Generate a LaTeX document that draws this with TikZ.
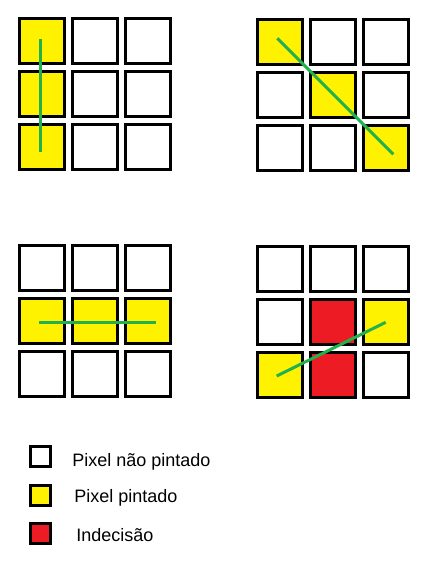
\documentclass[tikz,border=0pt]{standalone}
\usepackage{fontspec}
\setmainfont{Liberation Sans}
\definecolor{pyellow}{HTML}{FFF200}
\definecolor{pred}{HTML}{ED1C24}
\definecolor{pgreen}{HTML}{22B14C}
\tikzset{
  cellbox/.style={draw=black, line width=2.25pt, minimum size=33.75pt, inner sep=0pt, fill=white},
  legbox/.style={draw=black, line width=2.25pt, minimum size=15pt, inner sep=0pt},
  seg/.style={draw=pgreen, line width=2.25pt},
  legtext/.style={anchor=base west, inner sep=0pt, font=\fontsize{13.5}{16}\selectfont}
}
\begin{document}
\begin{tikzpicture}[x=0.75pt,y=-0.75pt]
\useasboundingbox (0,0) rectangle (434,579);
% grids: name / x0 / y0
\foreach \g/\xo/\yo in {a/18/17, b/256/18, c/18/244, d/256/245}{
  \foreach \r in {0,1,2}{
    \foreach \c in {0,1,2}{
      \node[cellbox] (\g\r\c) at ({\xo+24+53*\c},{\yo+24+53*\r}) {};
    }
  }
}
% filled cells
\foreach \n in {a00,a10,a20,b00,b11,b22,c10,c11,c12,d12,d20}{
  \node[cellbox, fill=pyellow] at (\n) {};
}
\foreach \n in {d11,d21}{
  \node[cellbox, fill=pred] at (\n) {};
}
% line end points
\coordinate (a1) at (40.3,39);   \coordinate (a2) at (40.3,152);
\coordinate (b1) at (277.3,38.3); \coordinate (b2) at (393.3,154.3);
\coordinate (c1) at (39,322.3);   \coordinate (c2) at (156,322.3);
\coordinate (d1) at (276.7,376);  \coordinate (d2) at (385.7,322.3);
\draw[seg] (a1) -- (a2);
\draw[seg] (b1) -- (b2);
\draw[seg] (c1) -- (c2);
\draw[seg] (d1) -- (d2);
% legend
\node[legbox, fill=white]   (l1) at (40,456.7) {};
\node[legbox, fill=pyellow] (l2) at (40,495.7) {};
\node[legbox, fill=pred]    (l3) at (40.5,533) {};
\node[legtext] (t1) at (72,466.7) {Pixel não pintado};
\node[legtext] (t2) at (74,502.7) {Pixel pintado};
\node[legtext] (t3) at (76,541.7) {Indecisão};
\end{tikzpicture}
\end{document}
